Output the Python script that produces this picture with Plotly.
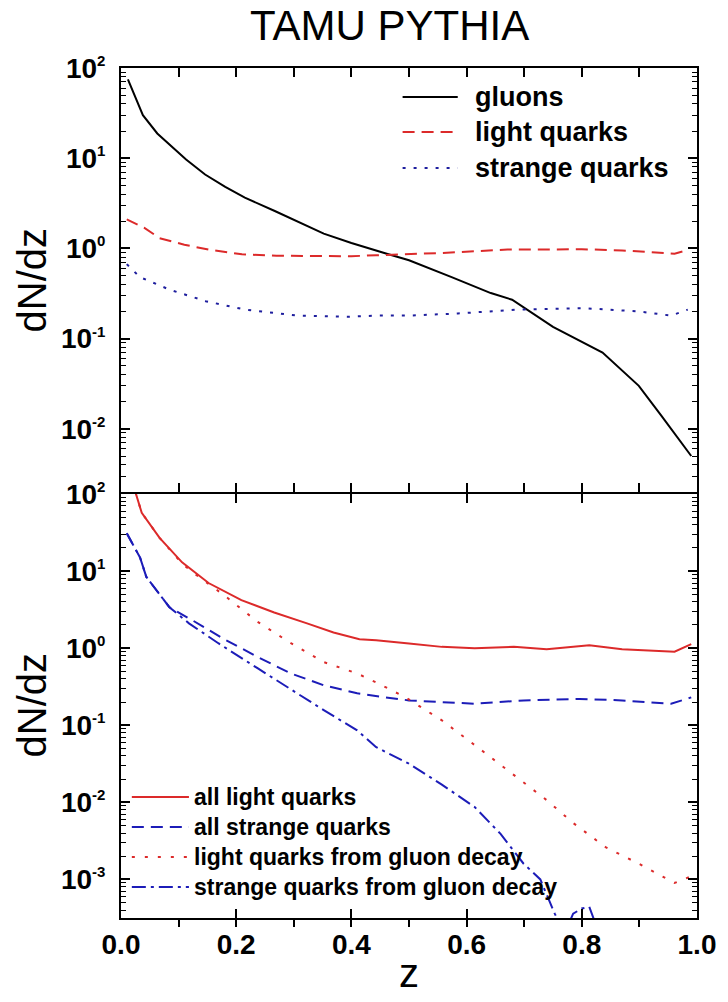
import plotly.graph_objects as go

# ---------------- data ----------------
# Top panel
z_gluons = [0.012, 0.038, 0.063, 0.113, 0.146, 0.181, 0.215, 0.267, 0.352, 0.40, 0.46, 0.50,
            0.574, 0.642, 0.679, 0.75, 0.836, 0.899, 0.938, 0.99]
gluons = [75, 30, 18.8, 9.7, 6.6, 4.8, 3.65, 2.6, 1.46, 1.15, 0.88, 0.74,
          0.48, 0.32, 0.27, 0.135, 0.07, 0.03, 0.014, 0.005]

z_light = [0.01, 0.04, 0.067, 0.11, 0.152, 0.21, 0.27, 0.323, 0.40, 0.443, 0.50, 0.557,
           0.614, 0.671, 0.728, 0.80, 0.87, 0.93, 0.961, 0.984]
light = [2.1, 1.7, 1.3, 1.1, 0.97, 0.86, 0.83, 0.82, 0.82, 0.84, 0.86, 0.89,
         0.93, 0.97, 0.97, 0.98, 0.95, 0.89, 0.875, 0.96]

z_strange = [0.01, 0.033, 0.084, 0.147, 0.215, 0.306, 0.397, 0.443, 0.50, 0.585,
             0.688, 0.802, 0.899, 0.955, 0.984]
strange = [0.67, 0.48, 0.35, 0.26, 0.21, 0.18, 0.175, 0.18, 0.18, 0.19,
           0.21, 0.218, 0.20, 0.18, 0.21]

# Bottom panel
z_all_light = [0.015, 0.026, 0.036, 0.067, 0.106, 0.152, 0.209, 0.266, 0.323, 0.369, 0.414,
               0.443, 0.50, 0.557, 0.614, 0.682, 0.739, 0.813, 0.870, 0.961, 0.99]
all_light = [150, 100, 57, 27, 13, 7, 4.2, 2.9, 2.1, 1.6, 1.31,
             1.27, 1.15, 1.04, 1.0, 1.04, 0.97, 1.09, 0.97, 0.90, 1.13]

z_all_strange = [0.01, 0.033, 0.044, 0.067, 0.084, 0.124, 0.18, 0.237, 0.295, 0.352, 0.41,
                 0.46, 0.50, 0.614, 0.699, 0.796, 0.870, 0.955, 0.99]
all_strange = [31, 15, 8.4, 4.9, 3.4, 2.3, 1.3, 0.77, 0.47, 0.33, 0.26,
               0.23, 0.21, 0.19, 0.21, 0.22, 0.21, 0.19, 0.23]

z_light_gd = [0.015, 0.026, 0.036, 0.067, 0.106, 0.13, 0.18, 0.237, 0.295, 0.352, 0.41,
              0.443, 0.494, 0.557, 0.625, 0.688, 0.739, 0.785, 0.842, 0.899, 0.961, 0.986]
light_gd = [150, 100, 57, 27, 12.5, 9.0, 4.8, 2.2, 1.16, 0.66, 0.47,
            0.36, 0.23, 0.116, 0.048, 0.021, 0.0107, 0.0054, 0.0026, 0.0016, 0.0009, 0.00107]

z_strange_gd = [0.01, 0.033, 0.044, 0.067, 0.084, 0.118, 0.169, 0.237, 0.295, 0.352, 0.41,
                0.443, 0.499, 0.557, 0.614, 0.659, 0.699, 0.728, 0.753, 0.77, 0.785,
                0.80, 0.813, 0.83]
strange_gd = [31, 15, 8.4, 4.9, 3.4, 2.1, 1.16, 0.55, 0.29, 0.157, 0.086,
              0.052, 0.032, 0.017, 0.0087, 0.0039, 0.0016, 0.001, 0.00036, 0.0002, 0.00036,
              0.00042, 0.00044, 0.0002]

top_labels = ["gluons", "light quarks", "strange quarks"]
bottom_labels = ["all light quarks", "all strange quarks",
                 "light quarks from gluon decay", "strange quarks from gluon decay"]
x_ticks = [0.0, 0.2, 0.4, 0.6, 0.8, 1.0]

# ---------------- styles ----------------
RED = "#DC2A2A"
BLUE = "#1C1CB8"
NAVY = "#1E1E9E"
BLACK = "black"
FONT = "Liberation Sans"

fig = go.Figure()

top_series = [
    (z_gluons, gluons, BLACK, "solid"),
    (z_light, light, RED, "12px,7px"),
    (z_strange, strange, NAVY, "3px,8px"),
]
for (zz, yy, col, dash), name in zip(top_series, top_labels):
    fig.add_trace(go.Scatter(x=zz, y=yy, mode="lines", name=name, xaxis="x2", yaxis="y2",
                             line=dict(color=col, width=2, dash=dash), showlegend=False))

bottom_series = [
    (z_all_light, all_light, RED, "solid"),
    (z_all_strange, all_strange, BLUE, "12px,7px"),
    (z_light_gd, light_gd, RED, "3px,10px"),
    (z_strange_gd, strange_gd, BLUE, "14px,5px,3px,5px"),
]
for (zz, yy, col, dash), name in zip(bottom_series, bottom_labels):
    fig.add_trace(go.Scatter(x=zz, y=yy, mode="lines", name=name, xaxis="x", yaxis="y",
                             line=dict(color=col, width=2, dash=dash), showlegend=False))


def sup(e):
    return "10<sup><span style='font-size:15px'>%d</span></sup>" % e


def minor_vals(lo, hi):
    return [m * 10 ** k for k in range(lo, hi) for m in range(2, 10)]


tickfont = dict(family=FONT, size=28, color="black", weight="bold")
common_axis = dict(showline=True, linewidth=2, linecolor="black", mirror="allticks",
                   ticks="inside", ticklen=9, tickwidth=1.5, tickcolor="black",
                   showgrid=False, zeroline=False)

HALF = 1.0 / 850  # one pixel of plot height, so the two shared border lines coincide

fig.update_layout(
    width=728, height=1002,
    margin=dict(l=121, r=22, t=68, b=84),
    paper_bgcolor="white", plot_bgcolor="white",
    xaxis=dict(domain=[0, 1], range=[0, 1], anchor="y", tickvals=x_ticks,
               tickformat=".1f", tickfont=dict(family=FONT, size=28, color="black", weight="bold"),
               minor=dict(dtick=0.1, ticks="outside", ticklen=7, tickcolor="black", tickwidth=1.5),
               **common_axis),
    xaxis2=dict(domain=[0, 1], range=[0, 1], anchor="y2", matches="x", dtick=0.1,
                showticklabels=False, **common_axis),
    yaxis=dict(domain=[0, 0.5 - HALF], type="log", range=[-3.5, 2], anchor="x",
               tickvals=[10 ** e for e in range(-3, 3)], ticktext=[sup(e) for e in range(-3, 3)],
               tickfont=tickfont, ticklabelstandoff=8,
               minor=dict(tickmode="array", tickvals=minor_vals(-4, 2), ticks="inside",
                          ticklen=5, tickcolor="black", tickwidth=1),
               **common_axis),
    yaxis2=dict(domain=[0.5 + HALF, 1], type="log", range=[-2.7, 2], anchor="x2",
                tickvals=[10 ** e for e in range(-2, 3)], ticktext=[sup(e) for e in range(-2, 3)],
                tickfont=tickfont, ticklabelstandoff=8,
                minor=dict(tickmode="array", tickvals=minor_vals(-3, 2), ticks="inside",
                           ticklen=5, tickcolor="black", tickwidth=1),
                **common_axis),
)


def px_x(p):
    return (p - 121) / 585.0


def px_y(p):
    return (918 - p) / 850.0


annotations = [
    dict(text="TAMU PYTHIA", x=px_x(394), y=px_y(25), xanchor="center", yanchor="middle",
         font=dict(family=FONT, size=42, color="black")),
    dict(text="dN/dz", x=px_x(31), y=px_y(280), textangle=-90, xanchor="center", yanchor="middle",
         font=dict(family=FONT, size=40, color="black")),
    dict(text="dN/dz", x=px_x(31), y=px_y(705), textangle=-90, xanchor="center", yanchor="middle",
         font=dict(family=FONT, size=40, color="black")),
    dict(text="z", x=px_x(414), y=px_y(973), xanchor="center", yanchor="middle",
         font=dict(family=FONT, size=40, color="black")),
]
shapes = []

top_rows = [97, 132, 168]
for (zz, yy, col, dash), name, ry in zip(top_series, top_labels, top_rows):
    annotations.append(dict(text=name, x=px_x(479), y=px_y(ry), xanchor="left", yanchor="middle",
                            font=dict(family=FONT, size=27, color="black", weight="bold")))
    shapes.append(dict(type="line", xref="paper", yref="paper", x0=px_x(407), x1=px_x(463),
                       y0=px_y(ry), y1=px_y(ry), line=dict(color=col, width=2, dash=dash)))

bottom_rows = [797, 827, 857, 887]
for (zz, yy, col, dash), name, ry in zip(bottom_series, bottom_labels, bottom_rows):
    annotations.append(dict(text=name, x=px_x(193), y=px_y(ry), xanchor="left", yanchor="middle",
                            font=dict(family=FONT, size=23, color="black", weight="bold")))
    shapes.append(dict(type="line", xref="paper", yref="paper", x0=px_x(132), x1=px_x(190),
                       y0=px_y(ry), y1=px_y(ry), line=dict(color=col, width=2, dash=dash)))

for a in annotations:
    a.update(xref="paper", yref="paper", showarrow=False)

fig.update_layout(annotations=annotations, shapes=shapes)

fig.write_html("out.html")
